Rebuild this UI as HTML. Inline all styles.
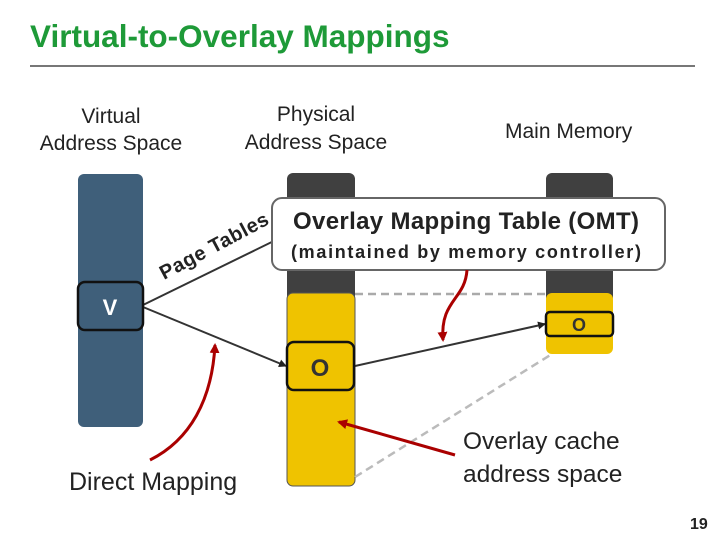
<!DOCTYPE html>
<html><head><style>
body{margin:0;width:720px;height:540px;background:#fff;position:relative;overflow:hidden;font-family:"Liberation Sans","DejaVu Sans",sans-serif;}
.t{position:absolute;color:#222;white-space:nowrap;}
</style></head><body>
<div class="t" style="left:30px;top:18px;font-size:31.5px;font-weight:bold;color:#1e9a38;">Virtual-to-Overlay Mappings</div>
<div style="position:absolute;left:30px;top:65px;width:665px;height:2px;background:#777;"></div>
<div class="t" style="left:36px;top:103px;font-size:21px;text-align:center;width:150px;line-height:27px;">Virtual<br>Address Space</div>
<div class="t" style="left:238px;top:101px;font-size:21px;text-align:center;width:156px;line-height:28px;">Physical<br>Address Space</div>
<div class="t" style="left:505px;top:120px;font-size:21px;">Main Memory</div>
<svg width="720" height="540" style="position:absolute;left:0;top:0">
<defs>
<marker id="a" markerWidth="8" markerHeight="8" refX="7" refY="4" orient="auto" markerUnits="userSpaceOnUse"><path d="M0,0 L8,4 L0,8 Z" fill="#222"/></marker>
<marker id="r" markerWidth="10" markerHeight="10" refX="8" refY="5" orient="auto" markerUnits="userSpaceOnUse"><path d="M0,0 L10,5 L0,10 Z" fill="#a00"/></marker>
</defs>
<rect x="78" y="174" width="65" height="253" rx="6" fill="#3f5f7a"/>
<rect x="287" y="173" width="68" height="130" rx="6" fill="#404040"/>
<rect x="287" y="293" width="68" height="193" rx="6" fill="#efc300" stroke="#555" stroke-width="1"/>
<rect x="546" y="173" width="67" height="130" rx="6" fill="#404040"/>
<rect x="546" y="293" width="67" height="61" rx="6" fill="#efc300"/>
<line x1="355" y1="294" x2="546" y2="294" stroke="#aaa" stroke-width="2.5" stroke-dasharray="8,5"/>
<line x1="355" y1="477" x2="552" y2="354" stroke="#bbb" stroke-width="2.5" stroke-dasharray="8,5"/>
<line x1="143" y1="305" x2="282" y2="237" stroke="#333" stroke-width="2"/>
<line x1="143" y1="307" x2="286" y2="366" stroke="#333" stroke-width="2" marker-end="url(#a)"/>
<line x1="355" y1="366" x2="545" y2="324" stroke="#333" stroke-width="2" marker-end="url(#a)"/>
<rect x="78" y="282" width="65" height="48" rx="7" fill="#3f5f7a" stroke="#111" stroke-width="2.5"/>
<text x="110" y="315" font-size="22" font-weight="bold" fill="#fff" text-anchor="middle" font-family="Liberation Sans">V</text>
<rect x="287" y="342" width="67" height="48" rx="7" fill="#efc300" stroke="#111" stroke-width="2.5"/>
<text x="320" y="376" font-size="24" font-weight="bold" fill="#333" text-anchor="middle" font-family="Liberation Sans">O</text>
<rect x="546" y="312" width="67" height="24" rx="4" fill="#efc300" stroke="#111" stroke-width="2.5"/>
<text x="579" y="331" font-size="18" font-weight="bold" fill="#333" text-anchor="middle" font-family="Liberation Sans">O</text>
<rect x="272" y="198" width="393" height="72" rx="10" fill="#fff" stroke="#666" stroke-width="2"/>
<text x="466" y="229" font-size="24" font-weight="bold" fill="#222" text-anchor="middle" font-family="Liberation Sans" textLength="346">Overlay Mapping Table (OMT)</text>
<text x="466" y="258" font-size="18" font-weight="bold" fill="#222" text-anchor="middle" font-family="Liberation Sans" textLength="350">(maintained by memory controller)</text>
<text x="0" y="0" font-size="20" font-weight="bold" fill="#222" font-family="Liberation Sans" letter-spacing="0.5" transform="translate(164,280) rotate(-28)">Page Tables</text>
<path d="M150,460 C190,440 212,400 215,345" fill="none" stroke="#a00" stroke-width="3" marker-end="url(#r)"/>
<path d="M467,270 C465,300 440,300 443,340" fill="none" stroke="#a00" stroke-width="3" marker-end="url(#r)"/>
<line x1="455" y1="455" x2="339" y2="422" stroke="#a00" stroke-width="3" marker-end="url(#r)"/>
</svg>
<div class="t" style="left:69px;top:468px;font-size:25px;">Direct Mapping</div>
<div class="t" style="left:463px;top:425px;font-size:24.5px;line-height:33px;">Overlay cache<br>address space</div>
<div class="t" style="left:690px;top:516px;font-size:16px;font-weight:bold;">19</div>
</body></html>
